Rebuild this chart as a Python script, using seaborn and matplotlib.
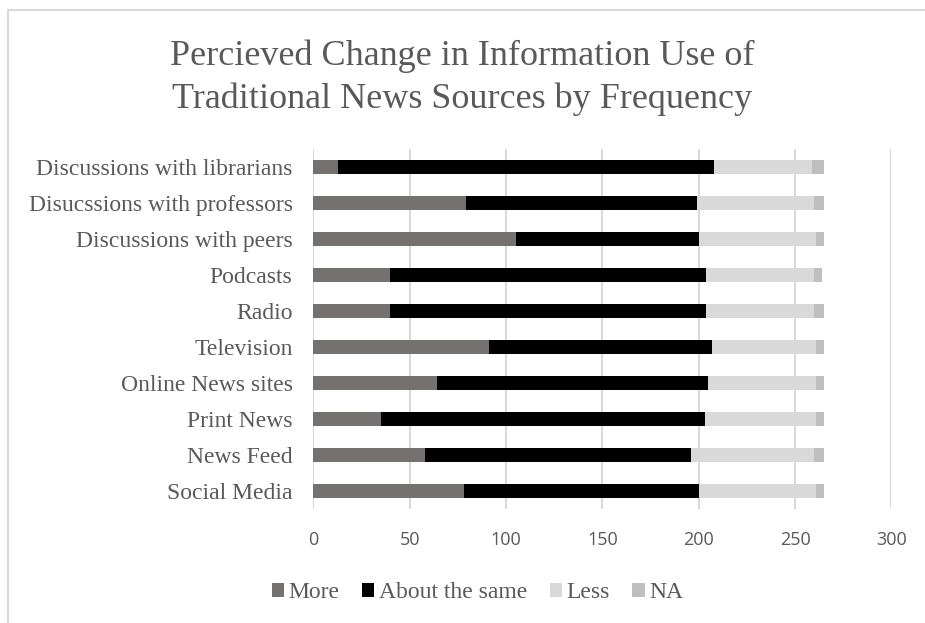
import matplotlib
matplotlib.use("Agg")
import matplotlib.pyplot as plt
import seaborn as sns
import numpy as np
import pandas as pd
from matplotlib.lines import Line2D
from matplotlib.patches import Patch

categories = ["Discussions with librarians", "Disucssions with professors",
              "Discussions with peers", "Podcasts", "Radio", "Television",
              "Online News sites", "Print News", "News Feed", "Social Media"]
more = [13, 79, 105, 40, 40, 91, 64, 35, 58, 78]
same = [195, 120, 95, 164, 164, 116, 141, 168, 138, 122]
less = [51, 61, 61, 56, 56, 54, 56, 58, 64, 61]
na = [6, 5, 4, 4, 5, 4, 4, 4, 5, 4]
series_names = ["More", "About the same", "Less", "NA"]
colors = ["#767171", "#000000", "#D9D9D9", "#BFBFBF"]
xticks = [0, 50, 100, 150, 200, 250, 300]
title_lines = ["Percieved Change in Information Use of", "Traditional News Sources by Frequency"]

sns.set_theme(style="white")
plt.rcParams['font.family'] = ['Liberation Serif', 'DejaVu Serif']
txt = "#595959"

fig = plt.figure(figsize=(9.25, 6.23), dpi=100)
ax = fig.add_axes([313.4/925, 1-509/623, 578/925, 360/623])

vals = np.array([more, same, less, na], dtype=float)
cum = np.cumsum(vals, axis=0)
for k in range(3, -1, -1):
    df = pd.DataFrame({"cat": categories, "val": cum[k]})
    sns.barplot(data=df, x="val", y="cat", orient="h", color=colors[k],
                width=0.4, saturation=1, ax=ax, zorder=3, linewidth=0)

ax.set_xlim(0, 300)
ax.set_xticks(xticks)
ax.set_xticklabels([str(t) for t in xticks], fontfamily="Open Sans", fontsize=13, color=txt)
ax.tick_params(axis="x", length=0, pad=16)
ax.tick_params(axis="y", length=0, pad=15, labelsize=17, labelcolor=txt)
ax.set_xlabel("")
ax.set_ylabel("")
ax.grid(axis="x", color="#D9D9D9", linewidth=1.5, zorder=0)
ax.set_axisbelow(True)
for s in ax.spines.values():
    s.set_visible(False)

for line, yb in zip(title_lines, [65, 108]):
    fig.text(0.5, 1-yb/623, line, ha="center", va="baseline", fontsize=26, color=txt)

handles = [Patch(facecolor=c, edgecolor="none") for c in colors]
leg = fig.legend(handles, series_names, loc="center", bbox_to_anchor=(477.5/925, 1-593/623),
                 ncol=4, frameon=False, fontsize=17, handlelength=0.52, handleheight=0.52,
                 handletextpad=0.2, columnspacing=0.95, borderpad=0)
for t in leg.get_texts():
    t.set_color(txt)

fig.add_artist(Line2D([8/925, 1], [1-9.5/623, 1-9.5/623], color="#D9D9D9", linewidth=1.5,
                      transform=fig.transFigure))
fig.add_artist(Line2D([8/925, 8/925], [0, 1-9.5/623], color="#D9D9D9", linewidth=1.5,
                      transform=fig.transFigure))

fig.savefig("out.png", dpi=100)
